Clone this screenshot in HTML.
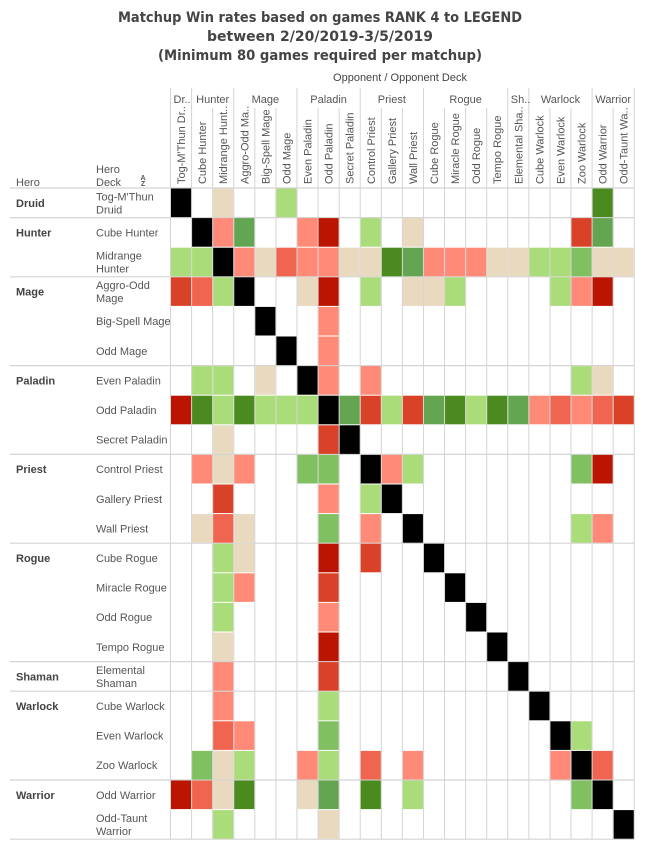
<!DOCTYPE html>
<html><head><meta charset="utf-8"><style>
html,body{margin:0;padding:0;background:#fff;width:648px;height:852px;overflow:hidden}
svg{display:block}
text{font-family:"Liberation Sans",Arial,sans-serif;fill:#555}
</style></head><body>
<svg id="chart" width="648" height="852" viewBox="0 0 648 852" xmlns="http://www.w3.org/2000/svg">
<g font-family="DejaVu Sans, sans-serif">
<text x="320" y="22" text-anchor="middle" font-weight="bold" font-size="14" style="font-family:'DejaVu Sans',sans-serif;fill:#444" textLength="404" lengthAdjust="spacingAndGlyphs">Matchup Win rates based on games RANK 4 to LEGEND</text>
<text x="320" y="41" text-anchor="middle" font-weight="bold" font-size="14" style="font-family:'DejaVu Sans',sans-serif;fill:#444" textLength="226" lengthAdjust="spacingAndGlyphs">between 2/20/2019-3/5/2019</text>
<text x="320" y="60" text-anchor="middle" font-weight="bold" font-size="14" style="font-family:'DejaVu Sans',sans-serif;fill:#444" textLength="324" lengthAdjust="spacingAndGlyphs">(Minimum 80 games required per matchup)</text>
</g>
<text x="400" y="81" text-anchor="middle" font-size="11" style="fill:#444">Opponent  /  Opponent Deck</text>
<text x="16" y="186" font-size="11">Hero</text>
<text x="96" y="173" font-size="11">Hero</text>
<text x="96" y="186" font-size="11">Deck</text>
<text x="143" y="180" font-size="7" font-weight="bold" text-anchor="middle">A</text>
<text x="143" y="186" font-size="7" font-weight="bold" text-anchor="middle">Z</text>
<g id="grid"></g>
<g id="cells"></g>
<g id="labels"></g>
</svg>
<script>
const colDecks = ["Tog-M'Thun Dr..","Cube Hunter","Midrange Hunt..","Aggro-Odd Ma..","Big-Spell Mage","Odd Mage","Even Paladin","Odd Paladin","Secret Paladin","Control Priest","Gallery Priest","Wall Priest","Cube Rogue","Miracle Rogue","Odd Rogue","Tempo Rogue","Elemental Sha..","Cube Warlock","Even Warlock","Zoo Warlock","Odd Warrior","Odd-Taunt Wa.."];
const colGroups = [["Dr..",0,1,"start"],["Hunter",1,2],["Mage",3,3],["Paladin",6,3],["Priest",9,3],["Rogue",12,4],["Sh..",16,1,"start"],["Warlock",17,3],["Warrior",20,2]];
const rowDecks = [["Tog-M'Thun","Druid"],["Cube Hunter"],["Midrange","Hunter"],["Aggro-Odd","Mage"],["Big-Spell Mage"],["Odd Mage"],["Even Paladin"],["Odd Paladin"],["Secret Paladin"],["Control Priest"],["Gallery Priest"],["Wall Priest"],["Cube Rogue"],["Miracle Rogue"],["Odd Rogue"],["Tempo Rogue"],["Elemental","Shaman"],["Cube Warlock"],["Even Warlock"],["Zoo Warlock"],["Odd Warrior"],["Odd-Taunt","Warrior"]];
const rowGroups = [["Druid",0,1],["Hunter",1,2],["Mage",3,3],["Paladin",6,3],["Priest",9,3],["Rogue",12,4],["Shaman",16,1],["Warlock",17,3],["Warrior",20,2]];
// win-rate bins per cell: K=mirror, 1=much lower ... 9=much higher, .=no data
const cellBins = [
"K.5..6..............9.",
".K48..41.6.5.......28.",
"66K45344559844455667554".slice(0,22),
"23K6..51.6.556....641.".replace("23K6","236K"),
"....K..4..............",
".....K.4..............",
".66.5.K4.4.........65.",
"1969666K82628969843432",
"......2K..............".replace("......2K","..5....2K").slice(0,22),
".454..77.K46.......71.",
"..2....4.6K...........",
".535...7.4.K.......64.",
"..65...1.2..K.........",
"..64...2.....K........",
"..6....4......K.......",
"..5....1.......K......",
"..4....2........K.....",
"..4....6.........K....",
"..34...7..........K6..",
".756..46.3.4......4K3.",
"1359..58.9.6.......7K.",
"..6....5.............K"
];
const binColors = {"1":"#bb1400","2":"#d94128","3":"#f0654f","4":"#ff8a78","5":"#e8d9bf","6":"#abdc7a","7":"#80c060","8":"#63a550","9":"#4a8a1e","K":"#000"};
const X0=170.5, CW=21.08, Y0=188, RH=29.6;
function xScale(c){return X0+c*CW;}
function yScale(r){return Y0+r*RH;}
const NS="http://www.w3.org/2000/svg";
function mk(tag,attrs,parent,txt){const e=document.createElementNS(NS,tag);for(const k in attrs)e.setAttribute(k,attrs[k]);if(txt!==undefined)e.textContent=txt;parent.appendChild(e);return e;}
const grid=document.getElementById('grid'),cells=document.getElementById('cells'),labels=document.getElementById('labels');
const nC=colDecks.length,nR=rowDecks.length;
const groupStarts=new Set(colGroups.map(g=>g[1]));
// vertical lines
for(let c=0;c<=nC;c++){
  const top=(groupStarts.has(c)||c===nC)?88:108;
  const l=mk('line',{x1:xScale(c),x2:xScale(c),y1:top,y2:yScale(nR),stroke:'#d4d4d4','stroke-width':1},grid);
  
  
}
// horizontal group lines
const hb=[0];rowGroups.forEach(g=>hb.push(g[1]+g[2]));
hb.forEach(r=>{
  const l=mk('line',{x1:10,x2:xScale(nC),y1:yScale(r),y2:yScale(r),stroke:'#d4d4d4','stroke-width':1.2},grid);
  
  
});
// cells
cellBins.forEach((row,r)=>{
  for(let c=0;c<nC;c++){
    const b=row[c];
    if(!binColors[b])continue;
    const rc=mk('rect',{x:xScale(c)+0.5,y:yScale(r)+0.5,width:CW-1,height:RH-1,fill:binColors[b]},cells);
    
    
  }
});
// column group labels
colGroups.forEach(g=>{
  const [name,s,n,anchor]=g;
  const x=anchor==='start'?xScale(s)+3:(xScale(s)+xScale(s+n))/2;
  const t=mk('text',{x:x,y:103,'font-size':11,'text-anchor':anchor||'middle'},labels,name);
  
  
});
// column deck labels
colDecks.forEach((d,c)=>{
  const cx=xScale(c)+CW/2+4;
  const t=mk('text',{x:cx,y:184,'font-size':11,transform:'rotate(-90 '+cx+' 184)'},labels,d);
  
  
});
// row labels
rowGroups.forEach(g=>{
  const t=mk('text',{x:16,y:yScale(g[1])+RH/2+4,'font-size':11,'font-weight':'bold',style:'fill:#444'},labels,g[0]);
  
  
});
rowDecks.forEach((d,r)=>{
  const cy=yScale(r)+RH/2;
  d.forEach((line,i)=>{
    const y=d.length===1?cy+4:cy-2.5+i*13;
    const t=mk('text',{x:96,y:y,'font-size':11},labels,line);
    
    
  });
});
</script>
</body></html>
